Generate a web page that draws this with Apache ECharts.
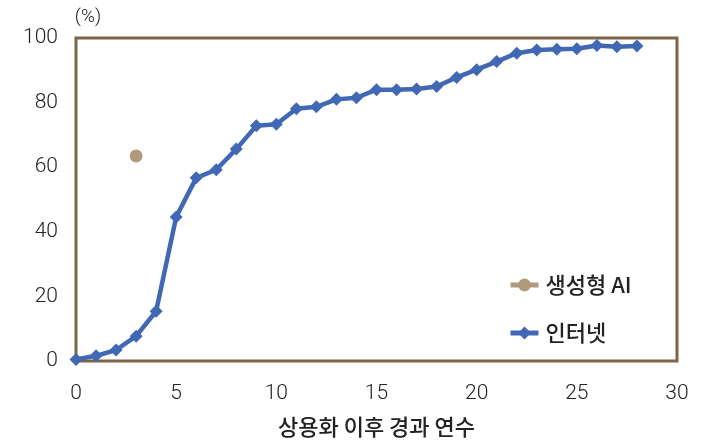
<!DOCTYPE html>
<html>
<head>
<meta charset="utf-8">
<script src="https://cdn.jsdelivr.net/npm/echarts@6/dist/echarts.min.js"></script>
<style>
  html, body { margin: 0; padding: 0; background: #fff; }
  #chart { width: 722px; height: 443px; }
</style>
</head>
<body>
<div id="chart"></div>
<script>
// Years since commercialization and adoption rate (%)
const internetYears = [0, 1, 2, 3, 4, 5, 6, 7, 8, 9, 10, 11, 12, 13, 14, 15, 16, 17, 18, 19, 20, 21, 22, 23, 24, 25, 26, 27, 28];
const internetRate = [0.5, 1.6, 3.4, 7.7, 15.4, 44.6, 56.7, 59.2, 65.6, 72.8, 73.3, 78.1, 78.7, 81.0, 81.5, 84.0, 84.0, 84.2, 85.0, 87.8, 90.2, 92.7, 95.3, 96.3, 96.5, 96.7, 97.7, 97.3, 97.5];
const genAiYears = [3];
const genAiRate = [63.5];
const seriesNames = ['생성형 AI', '인터넷'];
const xAxisTitle = '상용화 이후 경과 연수';
const yAxisUnit = '(%)';

const pairs = (xs, ys) => xs.map((x, i) => [x, ys[i]]);

const font = "Roboto, 'Liberation Sans', sans-serif";
const krFont = "'Noto Sans CJK KR', sans-serif";

const chart = echarts.init(document.getElementById('chart'));
chart.setOption({
  animation: false,
  grid: {
    left: 76, right: 45, top: 38, bottom: 79,
    show: true, borderColor: '#7d6549', borderWidth: 3, backgroundColor: 'transparent'
  },
  legend: {
    orient: 'vertical',
    left: 503, top: 269,
    itemGap: 26,
    itemWidth: 28, itemHeight: 16,
    lineStyle: { width: 5 },
    textStyle: { fontFamily: krFont, fontWeight: 500, fontSize: 22, color: '#222', padding: [0, 0, 0, 2] },
    data: seriesNames
  },
  xAxis: {
    type: 'value',
    min: 0, max: 30, interval: 5,
    name: xAxisTitle,
    nameLocation: 'middle',
    nameGap: 55,
    nameTextStyle: { fontFamily: krFont, fontWeight: 500, fontSize: 22, color: '#222' },
    axisLine: { show: false },
    axisTick: { show: false },
    splitLine: { show: false },
    axisLabel: { fontFamily: font, fontWeight: 300, fontSize: 21, color: '#222', margin: 22 }
  },
  yAxis: {
    type: 'value',
    min: 0, max: 100, interval: 20,
    name: yAxisUnit,
    nameLocation: 'end',
    nameGap: 11,
    nameTextStyle: { fontFamily: font, fontWeight: 300, fontSize: 19, color: '#222', align: 'center', padding: [0, 0, 0, 24] },
    axisLine: { show: false },
    axisTick: { show: false },
    splitLine: { show: false },
    axisLabel: { fontFamily: font, fontWeight: 300, fontSize: 21, color: '#222', margin: 18 }
  },
  series: [
    {
      name: seriesNames[0],
      type: 'line',
      data: pairs(genAiYears, genAiRate),
      symbol: 'circle',
      symbolSize: 13,
      itemStyle: { color: '#b09a7d' },
      lineStyle: { color: '#b09a7d', width: 5 },
      z: 3
    },
    {
      name: seriesNames[1],
      type: 'line',
      data: pairs(internetYears, internetRate),
      symbol: 'diamond',
      symbolSize: 13,
      itemStyle: { color: '#4068b4' },
      lineStyle: { color: '#4068b4', width: 4.5 },
      z: 2
    }
  ]
});
</script>
</body>
</html>
